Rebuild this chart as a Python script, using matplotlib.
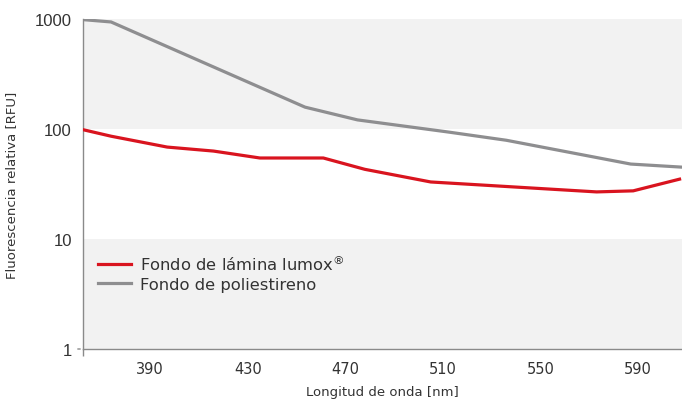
import matplotlib
matplotlib.use("Agg")
import matplotlib.pyplot as plt
from matplotlib.ticker import FixedLocator, NullFormatter

# Data
lumox_nm = [363, 374, 397, 416, 435, 461, 478, 505, 573, 588, 607]
lumox_rfu = [98, 86, 68.5, 63, 54.5, 54.5, 43, 33, 26.8, 27.4, 35]
ps_nm = [363, 374, 453.5, 475, 512, 536, 587, 608]
ps_rfu = [985, 940, 158, 121, 94, 79, 48, 45]

xticks = [390, 430, 470, 510, 550, 590]
yticks = [1, 10, 100, 1000]
ytick_labels = ["1", "10", "100", "1000"]
series_labels = ["Fondo de lámina lumox$^{®}$", "Fondo de poliestireno"]

RED = "#d9141f"
GREY = "#8e8e90"
BAND = "#f2f2f2"
AXC = "#8a8a8a"

fig = plt.figure(figsize=(6.82, 4.02), dpi=100)
ax = fig.add_axes([83 / 682, 1 - 350 / 402, 1 - 83 / 682, 330 / 402])

ax.set_yscale("log")
ax.set_ylim(1, 1000)
ax.set_xlim(362.5, 608)

ax.axhspan(100, 1000, color=BAND, zorder=0, lw=0)
ax.axhspan(1, 10, color=BAND, zorder=0, lw=0)

ax.plot(lumox_nm, lumox_rfu, color=RED, lw=2.3, label=series_labels[0], solid_joinstyle="round", zorder=3)
ax.plot(ps_nm, ps_rfu, color=GREY, lw=2.3, label=series_labels[1], solid_joinstyle="round", zorder=2)

for s in ["top", "right"]:
    ax.spines[s].set_visible(False)
for s in ["left", "bottom"]:
    ax.spines[s].set_color(AXC)
    ax.spines[s].set_linewidth(1.0)

ax.set_xticks(xticks)
ax.set_xticklabels([str(v) for v in xticks], fontsize=10.5, color="#333333", family="DejaVu Sans")
ax.tick_params(axis="x", which="major", length=0, pad=9)
ax.xaxis.set_minor_locator(FixedLocator([362.5]))
ax.xaxis.set_minor_formatter(NullFormatter())
ax.tick_params(axis="x", which="minor", length=5, color=AXC, width=1.0, direction="out")

ax.yaxis.set_major_locator(FixedLocator(yticks))
ax.set_yticklabels(ytick_labels, fontsize=12, color="#333333", family="Liberation Sans")
ax.yaxis.set_minor_locator(FixedLocator([]))
ax.tick_params(axis="y", which="major", length=0, pad=8)
# small tick at 1
ax.annotate("", xy=(0, 0), xycoords="axes fraction", xytext=(-8, 0), textcoords="offset pixels",
            arrowprops=dict(arrowstyle="-", color=AXC, lw=1.0))

ax.set_xlabel("Longitud de onda [nm]", fontsize=9.5, color="#333333", labelpad=6)
ax.set_ylabel("Fluorescencia relativa [RFU]", fontsize=9.5, color="#333333", labelpad=12)

leg = ax.legend(loc="upper left", bbox_to_anchor=(0.0, 0.335), frameon=False, fontsize=11.8,
                handlelength=2.0, handletextpad=0.6, labelspacing=0.25, borderaxespad=0.5)
for t in leg.get_texts():
    t.set_color("#333333")

fig.savefig("out.png", dpi=100)
